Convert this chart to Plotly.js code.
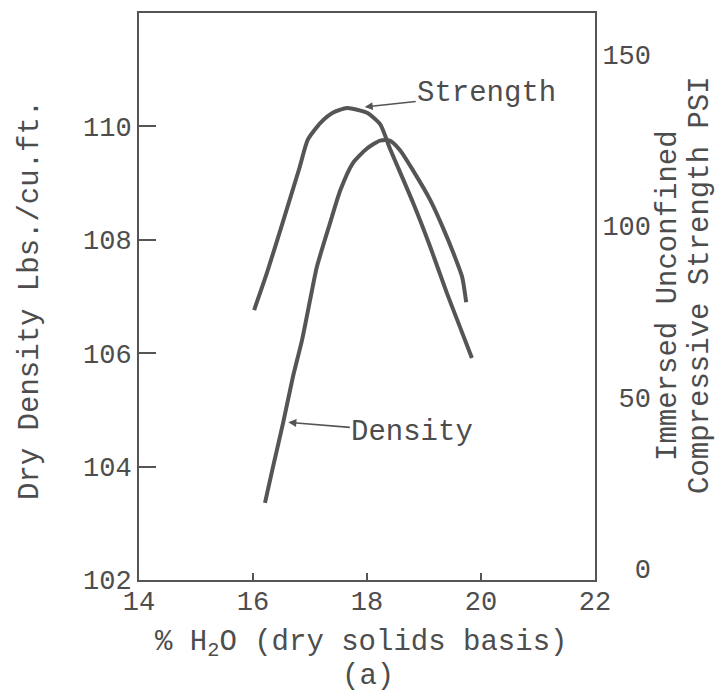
<!DOCTYPE html>
<html>
<head>
<meta charset="utf-8">
<script src="https://cdn.plot.ly/plotly-3.0.1.min.js"></script>
<style>html,body{margin:0;padding:0;background:#fff;}#chart{width:719px;height:692px;}</style>
</head>
<body>
<div id="chart"></div>
<script>
// Moisture content (% H2O, dry solids basis)
const strengthX = [16.02, 16.25, 16.53, 16.82, 16.96, 17.18, 17.40, 17.65, 18.00, 18.23, 18.40, 18.81, 19.11, 19.40, 19.63, 19.84];
// Immersed unconfined compressive strength (PSI) - right axis
const strengthY = [75.4, 86.5, 101.4, 117.1, 125.0, 129.9, 132.9, 134.3, 132.9, 129.6, 122.6, 106.6, 93.8, 80.4, 70.5, 61.4];

const densityX = [16.21, 16.35, 16.53, 16.70, 16.86, 17.00, 17.12, 17.35, 17.53, 17.75, 18.00, 18.23, 18.40, 18.58, 18.81, 19.11, 19.33, 19.51, 19.67, 19.74];
// Dry density (lbs./cu.ft.) - left axis
const densityY = [103.36, 103.99, 104.78, 105.58, 106.23, 106.93, 107.52, 108.29, 108.87, 109.35, 109.61, 109.75, 109.75, 109.58, 109.22, 108.70, 108.22, 107.78, 107.34, 106.90];

const xTicks = [14, 16, 18, 20, 22];
const leftTicks = [102, 104, 106, 108, 110];
const rightTicks = [0, 50, 100, 150];
const rightTickText = ["\u00A0\u00A00", "\u00A050", "100", "150"];

const ink = '#555555';
const textInk = '#4d4d4d';
const mono = '"Liberation Mono", "DejaVu Sans Mono", monospace';

const traces = [
  {x: strengthX, y: strengthY, yaxis: 'y2', mode: 'lines', name: 'Strength',
   line: {color: ink, width: 4, shape: 'spline', smoothing: 0.6}, hoverinfo: 'skip'},
  {x: densityX, y: densityY, yaxis: 'y', mode: 'lines', name: 'Density',
   line: {color: ink, width: 4, shape: 'spline', smoothing: 0.6}, hoverinfo: 'skip'}
];

const layout = {
  width: 719, height: 692,
  margin: {l: 139, r: 124, t: 13, b: 112},
  paper_bgcolor: '#ffffff', plot_bgcolor: '#ffffff',
  showlegend: false,
  font: {family: mono, color: textInk, size: 27},
  xaxis: {
    range: [14, 22], tickvals: xTicks, ticks: 'inside', ticklen: 7, tickwidth: 1.5, tickcolor: ink,
    showline: true, linecolor: ink, linewidth: 2, mirror: true, showgrid: false, zeroline: false,
    ticklabelstandoff: -4,
    tickfont: {family: mono, size: 27, color: textInk}
  },
  yaxis: {
    range: [102, 112], tickvals: leftTicks, ticks: 'inside', ticklen: 17, tickwidth: 2, tickcolor: ink,
    showline: true, linecolor: ink, linewidth: 2, showgrid: false, zeroline: false,
    tickfont: {family: mono, size: 27, color: textInk}
  },
  yaxis2: {
    range: [-3.3, 162], overlaying: 'y', side: 'right', tickvals: rightTicks, ticktext: rightTickText,
    ticks: '', showline: true, linecolor: ink, linewidth: 2, showgrid: false, zeroline: false,
    tickfont: {family: mono, size: 27, color: textInk}
  },
  annotations: [
    {text: 'Strength', x: 17.96, y: 134.6, xref: 'x', yref: 'y2', ax: 122, ay: -13,
     showarrow: true, arrowhead: 2, arrowsize: 1, arrowwidth: 1.6, arrowcolor: ink,
     font: {family: mono, size: 29, color: textInk}},
    {text: 'Density', x: 16.62, y: 104.78, xref: 'x', yref: 'y', ax: 124, ay: 10,
     showarrow: true, arrowhead: 2, arrowsize: 1, arrowwidth: 1.6, arrowcolor: ink,
     font: {family: mono, size: 29, color: textInk}},
    {text: 'Dry Density Lbs./cu.ft.', xref: 'paper', yref: 'paper', x: (30 - 139) / 456, y: (580 - 300) / 567,
     showarrow: false, textangle: -90, xanchor: 'center', yanchor: 'middle',
     font: {family: mono, size: 29, color: textInk}},
    {text: 'Immersed Unconfined', xref: 'paper', yref: 'paper', x: (668 - 139) / 456, y: (580 - 296) / 567,
     showarrow: false, textangle: -90, xanchor: 'center', yanchor: 'middle',
     font: {family: mono, size: 29, color: textInk}},
    {text: 'Compressive Strength PSI', xref: 'paper', yref: 'paper', x: (700 - 139) / 456, y: (580 - 285) / 567,
     showarrow: false, textangle: -90, xanchor: 'center', yanchor: 'middle',
     font: {family: mono, size: 29, color: textInk}},
    {text: '% H<sub>2</sub>O (dry solids basis)', xref: 'paper', yref: 'paper', x: (361 - 139) / 456, y: (580 - 644) / 567,
     showarrow: false, xanchor: 'center', yanchor: 'middle',
     font: {family: mono, size: 29, color: textInk}},
    {text: '(a)', xref: 'paper', yref: 'paper', x: (368 - 139) / 456, y: (580 - 676) / 567,
     showarrow: false, xanchor: 'center', yanchor: 'middle',
     font: {family: mono, size: 29, color: textInk}}
  ]
};

Plotly.newPlot('chart', traces, layout, {staticPlot: true, displayModeBar: false});
</script>
</body>
</html>
